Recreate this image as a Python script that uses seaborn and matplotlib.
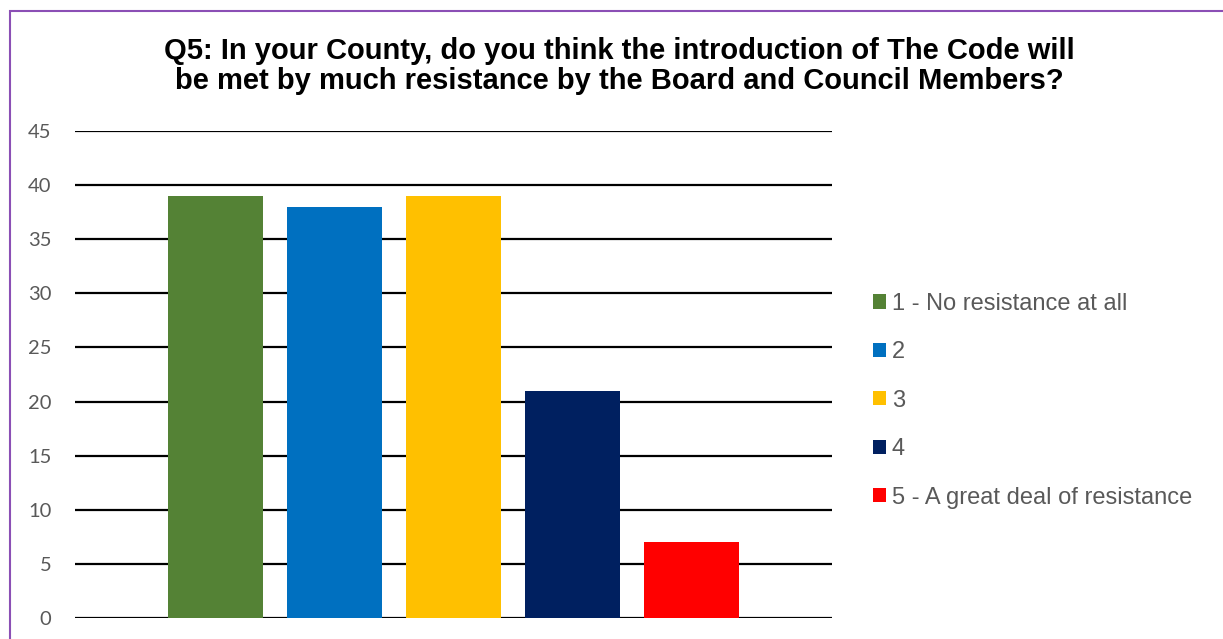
import matplotlib
matplotlib.use("Agg")
import matplotlib.pyplot as plt
from matplotlib.patches import Rectangle
import seaborn as sns
import pandas as pd

categories = ["1 - No resistance at all", "2", "3", "4", "5 - A great deal of resistance"]
values = [39, 38, 39, 21, 7]
colors = ["#548235", "#0070C0", "#FFC000", "#002060", "#FF0000"]
yticks = [0, 5, 10, 15, 20, 25, 30, 35, 40, 45]
title = ("Q5: In your County, do you think the introduction of The Code will\n"
         "be met by much resistance by the Board and Council Members?")

sns.set_theme(style="white")
plt.rcParams["font.family"] = ["Liberation Sans", "DejaVu Sans"]

df = pd.DataFrame({"cat": categories, "val": values})

W, H = 1223, 639
fig = plt.figure(figsize=(W / 100, H / 100), dpi=100)
ax = fig.add_axes([75 / W, 1 - 618 / H, (832 - 75) / W, (618 - 131) / H])

sns.barplot(data=df, x="cat", y="val", hue="cat", palette=colors,
            order=categories, hue_order=categories, width=0.8,
            dodge=False, legend=False, ax=ax, saturation=1, zorder=3,
            linewidth=0, edgecolor="none")

ax.set_xlim(2 - 3.1807, 2 + 3.1807)
ax.set_ylim(0, 45)
ax.set_yticks(yticks)
ax.set_yticklabels([str(t) for t in yticks], fontfamily="Lato", fontsize=14.5, color="#595959")
ax.set_xticks([])
ax.set_xlabel("")
ax.set_ylabel("")
ax.tick_params(axis="y", length=0, pad=17)
for s in ax.spines.values():
    s.set_visible(False)
ax.yaxis.grid(True, color="black", linewidth=1.6, zorder=1)
ax.set_axisbelow(True)

handles = [Rectangle((0, 0), 1, 1, facecolor=c, edgecolor="none") for c in colors]
leg = fig.legend(handles, categories, loc="center left",
                 bbox_to_anchor=(873 / W, 1 - 400.7 / H),
                 frameon=False, fontsize=17, labelcolor="#595959",
                 handlelength=0.55, handleheight=0.55, handletextpad=0.25,
                 labelspacing=1.12, borderpad=0, borderaxespad=0)

fig.text(619 / W, 1 - 66 / H, title, ha="center", va="center",
         fontsize=21, fontweight="bold", color="black", linespacing=1.12)

fig.add_artist(Rectangle((10.5 / W, -0.1), 2, 1 - 10.5 / H + 0.1,
                         transform=fig.transFigure, fill=False,
                         edgecolor="#8B4FB5", linewidth=1.5, clip_on=False))

fig.savefig("out.png", dpi=100, facecolor="white")
